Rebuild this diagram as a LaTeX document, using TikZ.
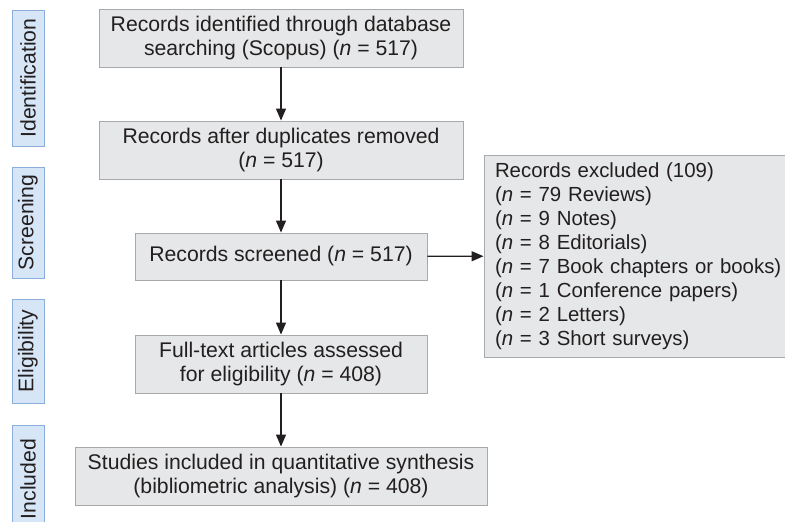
\documentclass[tikz,border=0pt]{standalone}
\usepackage{fontspec}
\setmainfont{Liberation Sans}
\usetikzlibrary{arrows.meta,positioning}
\definecolor{boxfill}{RGB}{230,231,232}
\definecolor{boxline}{RGB}{167,169,172}
\definecolor{stagefill}{RGB}{214,230,246}
\definecolor{stageline}{RGB}{140,174,219}
\definecolor{ink}{RGB}{35,31,32}
\newcommand*{\nn}{\textit{n}}

\begin{document}
\begin{tikzpicture}[x=1pt,y=-1pt,
	every node/.style={font=\fontsize{21.2}{24.5}\selectfont,text=ink,inner sep=0pt},
	flowbox/.style={draw=boxline,fill=boxfill,line width=0.9pt,align=center,minimum height=58pt},
	stagebox/.style={draw=stageline,fill=stagefill,line width=0.9pt,rotate=90,minimum height=32pt},
	flowarrow/.style={-{Triangle[width=10pt,length=12pt]},line width=1.3pt,draw=ink}]
\useasboundingbox (0,0) rectangle (785,522);
%
%	\draw[step=50,gray,very thin,opacity=0.2] (0,0) grid (785,522);
%

% stages on the left
\node[stagebox,minimum width=136pt] (ident) at (28,78) {Identification};
\node[stagebox,minimum width=111pt] (screen) at (28,222.5) {Screening};
\node[stagebox,minimum width=104pt] (elig) at (28,351) {Eligibility};
\node[stagebox,minimum width=108pt] (incl) at (28,479) {Included};

% main column
\node[flowbox,minimum width=364pt] (found) at (281,38) {Records identified through database\\searching (Scopus) (\nn{} = 517)};
\node[flowbox,minimum width=364pt] (dupl) at (281,150) {Records after duplicates removed\\(\nn{} = 517)};
\node[flowbox,minimum width=292pt,minimum height=47pt] (screened) at (281,256.5) {Records screened (\nn{} = 517)};
\node[flowbox,minimum width=292pt] (fulltext) at (281,364) {Full-text articles assessed\\for eligibility (\nn{} = 408)};
\node[flowbox,minimum width=412pt] (studies) at (281,476) {Studies included in quantitative synthesis\\(bibliometric analysis) (\nn{} = 408)};

% excluded records
\node[flowbox,minimum height=202pt,align=left,text width=310pt,inner xsep=11pt,
	font=\fontsize{20.4}{24}\selectfont] (excl) at (650,256) {Records excluded (109)\\
(\nn{} = 79 Reviews)\\
(\nn{} = 9 Notes)\\
(\nn{} = 8 Editorials)\\
(\nn{} = 7 Book chapters or books)\\
(\nn{} = 1 Conference papers)\\
(\nn{} = 2 Letters)\\
(\nn{} = 3 Short surveys)};

\draw[flowarrow] (found) -- (dupl);
\draw[flowarrow] (dupl) -- (screened);
\draw[flowarrow] (screened) -- (fulltext);
\draw[flowarrow] (fulltext) -- (studies);
\draw[flowarrow] (screened) -- (excl);
\end{tikzpicture}
\end{document}
